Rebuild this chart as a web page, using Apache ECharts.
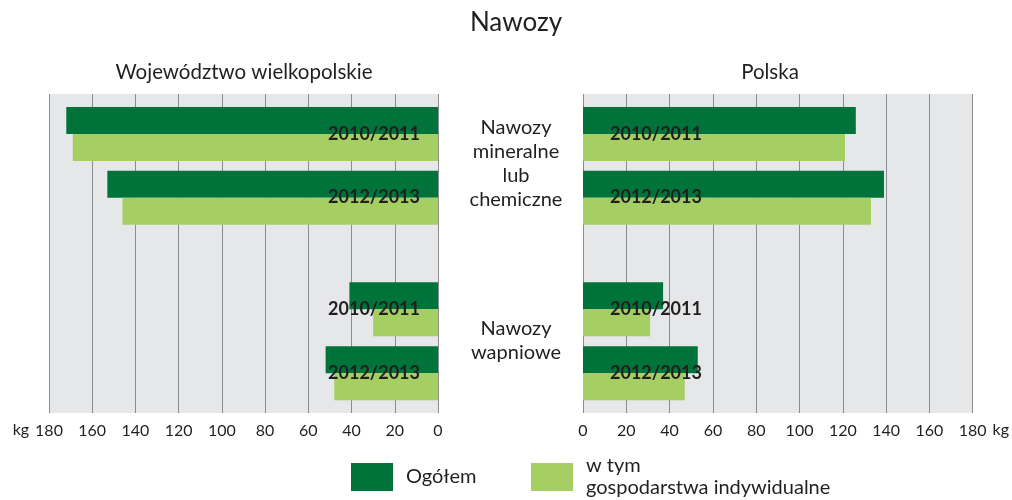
<!DOCTYPE html>
<html>
<head>
<meta charset="utf-8">
<script src="https://cdn.jsdelivr.net/npm/echarts@6/dist/echarts.min.js"></script>
<style>
  html, body { margin: 0; padding: 0; background: #fff; }
  #chart { width: 1012px; height: 500px; }
</style>
</head>
<body>
<div id="chart"></div>
<script>
// dane: kolejno mineralne 2010/2011, mineralne 2012/2013, wapniowe 2010/2011, wapniowe 2012/2013
const seasons = ["2010/2011", "2012/2013", "2010/2011", "2012/2013"];
const fertilizerTypes = ["Nawozy\nmineralne\nlub\nchemiczne", "Nawozy\nwapniowe"];
const seriesNames = ["Ogółem", "w tym gospodarstwa indywidualne"];
const wlkpTotal = [172, 153, 41, 52];
const wlkpIndividual = [169, 146, 30, 48];
const polskaTotal = [126, 139, 37, 53];
const polskaIndividual = [121, 133, 31, 47];

// uklad wierszy: 20 pozycji na osi, grupy na pozycjach 2, 6, 13, 17
const SLOTS = 20;
const slotOf = [2, 6, 13, 17];

const DARK = "#00733a";
const LIGHT = "#a5cf63";
const TEXT = "#231f20";
const FONT = "Lato";

function toSlots(vals) {
  const arr = new Array(SLOTS).fill("-");
  slotOf.forEach((s, i) => (arr[s] = vals[i]));
  return arr;
}
const yCats = new Array(SLOTS).fill("");
slotOf.forEach((s, i) => (yCats[s] = seasons[i]));

function xAxisCfg(gridIndex, inverse, nameGap) {
  return {
    gridIndex: gridIndex,
    type: "value",
    min: 0,
    max: 180,
    interval: 20,
    inverse: inverse,
    name: "kg",
    nameLocation: "end",
    nameGap: nameGap,
    nameTextStyle: {
      fontFamily: FONT,
      fontSize: 16,
      color: TEXT,
      verticalAlign: "top",
      padding: [9, 0, 0, 0],
    },
    axisLine: { show: false },
    axisTick: { show: false },
    axisLabel: {
      fontFamily: FONT,
      fontSize: 16,
      color: TEXT,
      margin: 10,
    },
    splitLine: {
      show: true,
      lineStyle: { color: "#8c8c8c", width: 1 },
    },
  };
}

function yAxisCfg(gridIndex, position, margin) {
  return {
    gridIndex: gridIndex,
    type: "category",
    data: yCats,
    inverse: true,
    position: position,
    z: 10,
    axisLine: { show: false },
    axisTick: { show: false },
    splitLine: { show: false },
    axisLabel: {
      inside: true,
      interval: 0,
      margin: margin,
      fontFamily: FONT,
      fontSize: 18,
      fontWeight: "bold",
      color: TEXT,
    },
  };
}

function barSeries(name, idx, vals, color) {
  return {
    name: name,
    type: "bar",
    xAxisIndex: idx,
    yAxisIndex: idx,
    data: toSlots(vals),
    barWidth: 27,
    barGap: "0%",
    itemStyle: { color: color },
  };
}

const legendText = {
  fontFamily: FONT,
  fontSize: 20,
  color: TEXT,
  lineHeight: 22,
  padding: [0, 0, 0, 8],
};

function centered(text, x, y, size, lineHeight) {
  return {
    type: "text",
    x: x,
    y: y,
    style: {
      text: text,
      font: size + "px " + FONT,
      lineHeight: lineHeight,
      fill: TEXT,
      align: "center",
      verticalAlign: "middle",
      textAlign: "center",
      textVerticalAlign: "middle",
    },
  };
}

const option = {
  animation: false,
  backgroundColor: "#fff",
  grid: [
    { left: 49, width: 389, top: 94, height: 319, show: true, backgroundColor: "#e6e7e8", borderWidth: 0 },
    { left: 583, width: 392, top: 94, height: 319, show: true, backgroundColor: "#e6e7e8", borderWidth: 0 },
  ],
  xAxis: [xAxisCfg(0, true, 19), xAxisCfg(1, false, 16)],
  yAxis: [yAxisCfg(0, "right", 18), yAxisCfg(1, "left", 27)],
  legend: [
    {
      data: [seriesNames[0]],
      left: 351,
      top: 463,
      padding: 0,
      icon: "rect",
      itemWidth: 42,
      itemHeight: 28,
      textStyle: legendText,
    },
    {
      data: [seriesNames[1]],
      left: 531,
      top: 455,
      padding: 0,
      icon: "rect",
      itemWidth: 42,
      itemHeight: 28,
      textStyle: legendText,
      formatter: function (n) {
        return n.replace("w tym ", "w tym\n");
      },
    },
  ],
  graphic: [
    centered("Nawozy", 516, 23, 26),
    centered("Województwo wielkopolskie", 244, 72, 20.5),
    centered("Polska", 770, 72, 20.5),
    centered(fertilizerTypes[0], 516, 164, 20, 24),
    centered(fertilizerTypes[1], 516, 341, 20, 24),
  ],
  series: [
    barSeries(seriesNames[0], 0, wlkpTotal, DARK),
    barSeries(seriesNames[1], 0, wlkpIndividual, LIGHT),
    barSeries(seriesNames[0], 1, polskaTotal, DARK),
    barSeries(seriesNames[1], 1, polskaIndividual, LIGHT),
  ],
};

const myChart = echarts.init(document.getElementById("chart"));
myChart.setOption(option);
</script>
</body>
</html>
